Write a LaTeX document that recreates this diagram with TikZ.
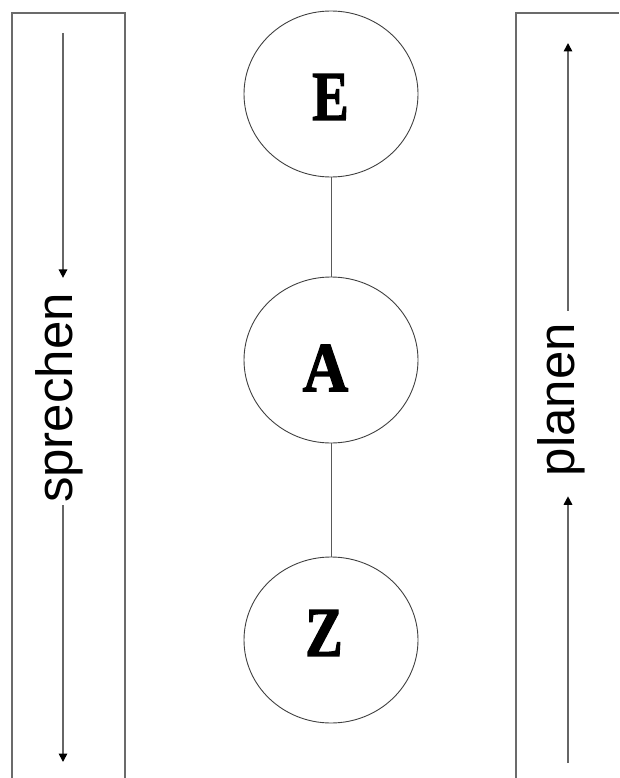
\documentclass[tikz,border=0pt]{standalone}
\usepackage{fontspec}
\setmainfont{Liberation Serif}
\newfontfamily\labelsans{Liberation Sans}
\newfontfamily\stagefont{Liberation Serif}[BoldFeatures={FakeBold=2}]
\usetikzlibrary{arrows.meta,shapes.geometric}

\tikzset{
  frame/.style={draw=black!58, line width=1.8pt},
  stage/.style={ellipse, draw=black!75, line width=0.9pt,
    minimum width=174pt, minimum height=166pt, inner sep=0pt},
  letter/.style={inner sep=0pt, font=\stagefont\fontsize{70}{70}\selectfont\bfseries},
  link/.style={draw=black!65, line width=0.9pt},
  vword/.style={rotate=90, inner sep=0pt, font=\labelsans\fontsize{51}{51}\selectfont},
  flow/.style={draw=black!60, line width=1.6pt,
    -{Triangle[length=8.5pt,width=8.5pt,color=black]}}
}

\begin{document}
\begin{tikzpicture}[x=1pt,y=-1pt]
  \useasboundingbox (0,0) rectangle (619,778);

  % the two open side frames
  \draw[frame] (12,778) -- (12,13) -- (125,13) -- (125,778);
  \draw[frame] (516,778) -- (516,13) -- (619,13);

  % the three stages
  \node[stage] (E) at (331,94) {};
  \node[stage] (A) at (331,360) {};
  \node[stage] (Z) at (331,640) {};
  \node[letter] (eL) at (330.5,97) {\scalebox{0.78}[1]{E}};
  \node[letter] (aL) at (325.5,368) {\scalebox{0.9}[1]{A}};
  \node[letter] (zL) at (324,633) {\scalebox{0.8}[1]{Z}};
  \draw[link] (E) -- (A);
  \draw[link] (A) -- (Z);

  % left column: speaking runs downward
  \node[vword] (sp) at (59,398) {sprechen};
  \coordinate (lTop) at (63,33);
  \coordinate (lBot) at (63,762);
  \draw[flow] (lTop) -- ([yshift=15pt]sp.east -| lTop);
  \draw[flow] ([yshift=-2pt]sp.west -| lTop) -- (lBot);

  % right column: planning runs upward
  \node[vword] (pl) at (561.5,399.5) {planen};
  \coordinate (rTop) at (568,43);
  \coordinate (rBot) at (568,763);
  \draw[flow] ([yshift=12pt]pl.east -| rTop) -- (rTop);
  \draw[flow] (rBot) -- ([yshift=-20pt]pl.west -| rTop);
\end{tikzpicture}
\end{document}
